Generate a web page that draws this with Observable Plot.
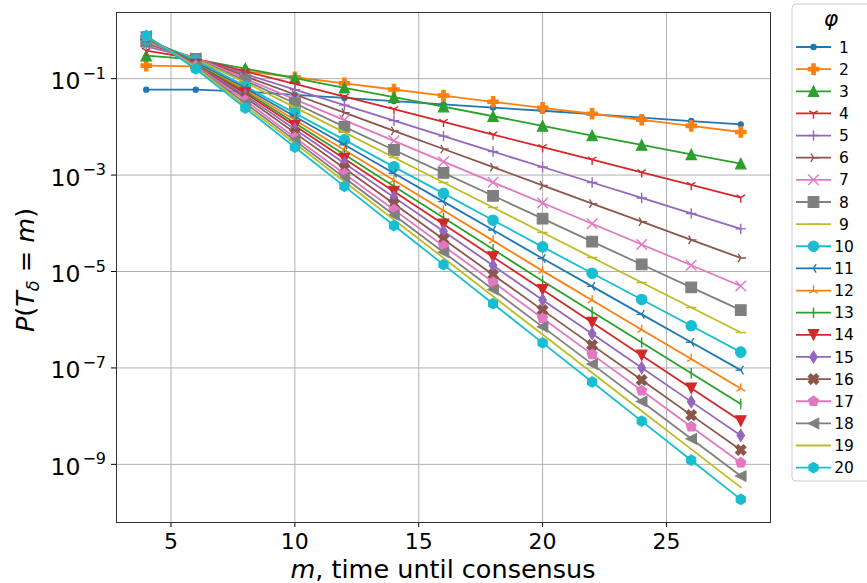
<!DOCTYPE html>
<html>
<head>
<meta charset="utf-8">
<script src="https://cdn.jsdelivr.net/npm/d3@7"></script>
<script src="https://cdn.jsdelivr.net/npm/@observablehq/plot@0.6"></script>
<style>
  html, body { margin: 0; padding: 0; background: #fff; }
  svg { display: block; }
</style>
</head>
<body>
<div id="chart"></div>
<script>
// m = time until consensus (x), one series per φ
const mValues = [4, 6, 8, 10, 12, 14, 16, 18, 20, 22, 24, 26, 28];
const phiValues = [1, 2, 3, 4, 5, 6, 7, 8, 9, 10, 11, 12, 13, 14, 15, 16, 17, 18, 19, 20];

// P(T_δ = m) for each φ, at m = 4, 6, …, 28
const p1  = [0.0592, 0.0592, 0.0537, 0.0462, 0.0398, 0.0343, 0.0292, 0.0251, 0.0216, 0.0184, 0.0156, 0.0132, 0.0113];
const p2  = [0.186, 0.180, 0.143, 0.107, 0.0798, 0.0596, 0.0445, 0.0331, 0.0248, 0.0187, 0.0140, 0.0105, 0.00782];
const p3  = [0.300, 0.251, 0.162, 0.102, 0.0646, 0.0412, 0.0263, 0.0166, 0.0105, 0.00661, 0.00422, 0.00269, 0.00173];
const p4  = [0.380, 0.257, 0.141, 0.0776, 0.0424, 0.0232, 0.0127, 0.00692, 0.00380, 0.00209, 0.00114, 6.24e-4, 3.42e-4];
const p5  = [0.468, 0.257, 0.124, 0.0592, 0.0282, 0.0135, 0.00644, 0.00308, 0.00147, 7.01e-4, 3.35e-4, 1.60e-4, 7.64e-5];
const p6  = [0.525, 0.266, 0.112, 0.0469, 0.0197, 0.00826, 0.00347, 0.00146, 6.11e-4, 2.56e-4, 1.08e-4, 4.52e-5, 1.91e-5];
const p7  = [0.562, 0.269, 0.100, 0.0372, 0.0138, 0.00513, 0.00190, 7.08e-4, 2.63e-4, 9.77e-5, 3.63e-5, 1.35e-5, 5.01e-6];
const p8  = [0.603, 0.257, 0.0912, 0.0309, 0.0100, 0.00331, 0.00111, 3.72e-4, 1.25e-4, 4.17e-5, 1.40e-5, 4.68e-6, 1.58e-6];
const p9  = [0.631, 0.251, 0.0832, 0.0254, 0.00767, 0.00232, 7.03e-4, 2.13e-4, 6.46e-5, 1.95e-5, 5.92e-6, 1.79e-6, 5.43e-7];
const p10 = [0.661, 0.240, 0.0692, 0.0193, 0.00537, 0.00148, 4.17e-4, 1.16e-4, 3.24e-5, 9.23e-6, 2.63e-6, 7.50e-7, 2.13e-7];
const p11 = [0.676, 0.219, 0.0638, 0.0164, 0.00424, 0.00109, 2.81e-4, 7.24e-5, 1.86e-5, 4.91e-6, 1.29e-6, 3.41e-7, 8.99e-8];
const p12 = [0.692, 0.204, 0.0589, 0.0139, 0.00330, 7.80e-4, 1.85e-4, 4.37e-5, 1.03e-5, 2.54e-6, 6.22e-7, 1.53e-7, 3.76e-8];
const p13 = [0.708, 0.200, 0.0543, 0.0120, 0.00266, 5.89e-4, 1.30e-4, 2.88e-5, 6.37e-6, 1.47e-6, 3.37e-7, 7.76e-8, 1.78e-8];
const p14 = [0.724, 0.195, 0.0501, 0.0105, 0.00219, 4.57e-4, 9.55e-5, 2.00e-5, 4.17e-6, 8.71e-7, 1.82e-7, 3.80e-8, 7.94e-9];
const p15 = [0.733, 0.191, 0.0451, 0.00891, 0.00176, 3.47e-4, 6.84e-5, 1.33e-5, 2.57e-6, 5.13e-7, 1.01e-7, 2.00e-8, 3.98e-9];
const p16 = [0.741, 0.186, 0.0407, 0.00750, 0.00138, 2.54e-4, 4.67e-5, 8.59e-6, 1.58e-6, 2.97e-7, 5.60e-8, 1.05e-8, 1.99e-9];
const p17 = [0.750, 0.182, 0.0355, 0.00603, 0.00107, 1.91e-4, 3.39e-5, 6.03e-6, 1.07e-6, 1.91e-7, 3.39e-8, 6.03e-9, 1.08e-9];
const p18 = [0.759, 0.178, 0.0309, 0.00525, 8.81e-4, 1.48e-4, 2.51e-5, 4.22e-6, 7.11e-7, 1.20e-7, 2.02e-8, 3.39e-9, 5.73e-10];
const p19 = [0.767, 0.172, 0.0272, 0.00456, 7.35e-4, 1.18e-4, 1.91e-5, 3.07e-6, 4.94e-7, 7.96e-8, 1.28e-8, 2.07e-9, 3.33e-10];
const p20 = [0.778, 0.159, 0.0245, 0.00378, 5.83e-4, 8.99e-5, 1.39e-5, 2.15e-6, 3.31e-7, 5.12e-8, 7.89e-9, 1.22e-9, 1.88e-10];

// axis ticks
const xTicks = [5, 10, 15, 20, 25];
const yTicks = [1e-1, 1e-3, 1e-5, 1e-7, 1e-9];
const yTickExponents = ["\u22121", "\u22123", "\u22125", "\u22127", "\u22129"];

const palette = ["#1f77b4", "#ff7f0e", "#2ca02c", "#d62728", "#9467bd",
                 "#8c564b", "#e377c2", "#7f7f7f", "#bcbd22", "#17becf"];
const markerNames = ["point", "plusFilled", "triangleUp", "triDown", "plus",
                     "triRight", "x", "square", "hline", "circle",
                     "triLeft", "triUp", "vline", "triangleDown", "thinDiamond",
                     "xFilled", "pentagon", "triangleLeft", "pixel", "hexagon"];

const series = [p1, p2, p3, p4, p5, p6, p7, p8, p9, p10, p11, p12, p13, p14, p15, p16, p17, p18, p19, p20];
const rows = series.flatMap((vals, i) => vals.map((p, j) => ({phi: phiValues[i], m: mValues[j], p})));

// ---- marker shapes (size → half-extent R) ----
const half = s => Math.sqrt(s / Math.PI);
function poly(c, pts) {
  c.moveTo(pts[0][0], pts[0][1]);
  for (let k = 1; k < pts.length; k++) c.lineTo(pts[k][0], pts[k][1]);
  c.closePath();
}
function spokes(c, pts) {
  for (const [x, y] of pts) { c.moveTo(0, 0); c.lineTo(x, y); }
}
function regular(n, R) {
  return d3.range(n).map(k => {
    const a = -Math.PI / 2 + k * 2 * Math.PI / n;
    return [R * Math.cos(a), R * Math.sin(a)];
  });
}
const shapes = {
  point:        {filled: true,  draw(c, s) { const r = half(s) * 0.5; c.moveTo(r, 0); c.arc(0, 0, r, 0, 2 * Math.PI); }},
  circle:       {filled: true,  draw(c, s) { const r = half(s); c.moveTo(r, 0); c.arc(0, 0, r, 0, 2 * Math.PI); }},
  square:       {filled: true,  draw(c, s) { const r = half(s) * 1.02; poly(c, [[-r, -r], [r, -r], [r, r], [-r, r]]); }},
  plusFilled:   {filled: true,  draw(c, s) { const R = half(s), a = R / 3;
    poly(c, [[-a, -R], [a, -R], [a, -a], [R, -a], [R, a], [a, a], [a, R], [-a, R], [-a, a], [-R, a], [-R, -a], [-a, -a]]); }},
  xFilled:      {filled: true,  draw(c, s) { const u = half(s) / 2;
    poly(c, [[-1, -2], [0, -1], [1, -2], [2, -1], [1, 0], [2, 1], [1, 2], [0, 1], [-1, 2], [-2, 1], [-1, 0], [-2, -1]].map(([x, y]) => [x * u, y * u])); }},
  triangleUp:   {filled: true,  draw(c, s) { const R = half(s); poly(c, [[0, -R], [R, R], [-R, R]]); }},
  triangleDown: {filled: true,  draw(c, s) { const R = half(s); poly(c, [[0, R], [R, -R], [-R, -R]]); }},
  triangleLeft: {filled: true,  draw(c, s) { const R = half(s); poly(c, [[-R, 0], [R, -R], [R, R]]); }},
  thinDiamond:  {filled: true,  draw(c, s) { const R = half(s); poly(c, [[0, -1.15 * R], [0.72 * R, 0], [0, 1.15 * R], [-0.72 * R, 0]]); }},
  pentagon:     {filled: true,  draw(c, s) { poly(c, regular(5, half(s))); }},
  hexagon:      {filled: true,  draw(c, s) { poly(c, regular(6, half(s))); }},
  plus:         {filled: false, draw(c, s) { const R = half(s); spokes(c, [[R, 0], [-R, 0], [0, R], [0, -R]]); }},
  x:            {filled: false, draw(c, s) { const R = half(s); spokes(c, [[R, R], [-R, -R], [R, -R], [-R, R]]); }},
  hline:        {filled: false, draw(c, s) { const R = half(s); spokes(c, [[R, 0], [-R, 0]]); }},
  vline:        {filled: false, draw(c, s) { const R = half(s); spokes(c, [[0, R], [0, -R]]); }},
  triDown:      {filled: false, draw(c, s) { const R = half(s); spokes(c, [[0, R], [0.8 * R, -0.5 * R], [-0.8 * R, -0.5 * R]]); }},
  triUp:        {filled: false, draw(c, s) { const R = half(s); spokes(c, [[0, -R], [0.8 * R, 0.5 * R], [-0.8 * R, 0.5 * R]]); }},
  triLeft:      {filled: false, draw(c, s) { const R = half(s); spokes(c, [[-R, 0], [0.5 * R, -0.8 * R], [0.5 * R, 0.8 * R]]); }},
  triRight:     {filled: false, draw(c, s) { const R = half(s); spokes(c, [[R, 0], [-0.5 * R, -0.8 * R], [-0.5 * R, 0.8 * R]]); }},
  pixel:        {filled: false, draw(c, s) { c.moveTo(-0.5, 0); c.lineTo(0.5, 0); }}
};

const markerR = 5.25;
const lineWidth = 1.8;

// each φ: its line, then its markers on top (later φ drawn above earlier ones)
const seriesMarks = phiValues.flatMap((phi, i) => {
  const data = rows.filter(d => d.phi === phi);
  const shape = shapes[markerNames[i]];
  return [
    Plot.line(data, {x: "m", y: "p", stroke: "phi", strokeWidth: lineWidth}),
    Plot.dot(data, {
      x: "m", y: "p", r: markerR, symbol: shape,
      fill: shape.filled ? "phi" : "none",
      stroke: "phi",
      strokeWidth: shape.filled ? 1.1 : 1.4
    })
  ];
});

const plot = Plot.plot({
  width: 867,
  height: 583,
  marginLeft: 116,
  marginRight: 97,
  marginTop: 12,
  marginBottom: 61,
  style: {fontFamily: "DejaVu Sans", fontSize: "22px", background: "white", color: "black"},
  x: {domain: [2.8, 29.2], ticks: xTicks, tickSize: 5, tickPadding: 6, label: null},
  y: {type: "log", domain: [Math.pow(10, -10.206), Math.pow(10, 0.372)], ticks: yTicks,
      tickSize: 5, tickFormat: () => "", label: null},
  color: {type: "ordinal", domain: phiValues, range: phiValues.map((_, i) => palette[i % palette.length])},
  marks: [
    Plot.ruleX(xTicks, {stroke: "#b0b0b0", strokeWidth: 1}),
    Plot.ruleY(yTicks, {stroke: "#b0b0b0", strokeWidth: 1}),
    ...seriesMarks,
    Plot.frame({stroke: "#333", strokeWidth: 1}),
    // y tick labels as 10 with a superscript exponent
    Plot.text(yTicks, {y: d => d, text: () => "10", frameAnchor: "left", textAnchor: "end",
                       dx: -36, dy: 3, fontSize: 23.5}),
    Plot.text(yTicks, {y: d => d, text: (d, i) => yTickExponents[i], frameAnchor: "left", textAnchor: "end",
                       dx: -10.5, dy: -5, fontSize: 16})
  ]
});

document.getElementById("chart").appendChild(plot);

// ---- axis titles with math styling ----
const svg = d3.select(plot);
const font = "DejaVu Sans";
const titleSize = 25.5;

const ylab = svg.append("text")
  .attr("transform", "translate(34,270) rotate(-90)")
  .attr("text-anchor", "middle")
  .attr("font-family", font).attr("font-size", titleSize).attr("fill", "black");
ylab.append("tspan").attr("font-style", "italic").text("P");
ylab.append("tspan").text("(");
ylab.append("tspan").attr("font-style", "italic").text("T");
ylab.append("tspan").attr("font-style", "italic").attr("font-size", titleSize * 0.7).attr("dy", 4.5).text("\u03b4");
ylab.append("tspan").attr("dy", -4.5).text(" = ");
ylab.append("tspan").attr("font-style", "italic").text("m");
ylab.append("tspan").text(")");

const xlab = svg.append("text")
  .attr("x", 443).attr("y", 578)
  .attr("text-anchor", "middle")
  .attr("font-family", font).attr("font-size", titleSize).attr("fill", "black");
xlab.append("tspan").attr("font-style", "italic").text("m");
xlab.append("tspan").text(", time until consensus");

// ---- legend ----
const color = plot.scale("color");
const lg = svg.append("g").attr("font-family", font);
lg.append("rect")
  .attr("x", 792).attr("y", 4).attr("width", 100).attr("height", 477).attr("rx", 4)
  .attr("fill", "white").attr("fill-opacity", 0.8)
  .attr("stroke", "#cccccc").attr("stroke-width", 1);
lg.append("text")
  .attr("x", 831).attr("y", 26).attr("text-anchor", "middle")
  .attr("font-size", 22).attr("font-style", "italic").attr("fill", "black")
  .text("\u03c6");
const rowStep = 22.14;
phiValues.forEach((phi, i) => {
  const y = 47 + i * rowStep;
  const c = color.apply(phi);
  const shape = shapes[markerNames[i]];
  lg.append("line")
    .attr("x1", 796).attr("x2", 831).attr("y1", y).attr("y2", y)
    .attr("stroke", c).attr("stroke-width", lineWidth);
  lg.append("path")
    .attr("d", d3.symbol(shape, markerR * markerR * Math.PI)())
    .attr("transform", `translate(813.5,${y})`)
    .attr("fill", shape.filled ? c : "none")
    .attr("stroke", c)
    .attr("stroke-width", shape.filled ? 1.1 : 1.4);
  lg.append("text")
    .attr("x", 844).attr("y", y + 5.6)
    .attr("font-size", 15.5).attr("fill", "black")
    .text(String(phi));
});
</script>
</body>
</html>
